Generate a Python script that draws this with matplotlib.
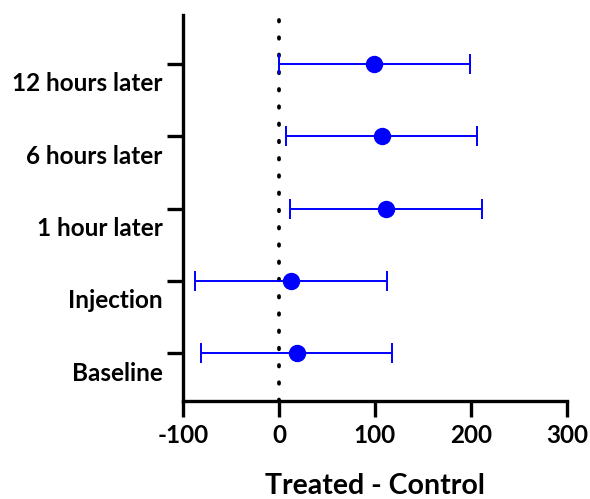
import numpy as np
import matplotlib.pyplot as plt
import matplotlib.transforms as mtransforms

plt.rcParams['font.family'] = ['Lato', 'DejaVu Sans']

# data (bottom to top)
stages = ['Baseline', 'Injection', '1 hour later', '6 hours later', '12 hours later']
means = [19, 13, 112, 107, 99]
lower = [-81, -87, 12, 7, 0]
upper = [118, 113, 211, 206, 199]

means = np.array(means)
err = np.array([means - np.array(lower), np.array(upper) - means])
ypos = np.arange(len(stages))

fig = plt.figure(figsize=(5.9, 4.99), dpi=100)
ax = fig.add_axes([0.310, 0.1964, 0.651, 0.774])

ax.axvline(0, color='black', linestyle=(0, (0.4, 4.2)), linewidth=2.7,
           dash_capstyle='round', zorder=1)
ax.errorbar(means, ypos, xerr=err, fmt='o', color='#0000ff', ecolor='#0000ff',
            markersize=11.5, elinewidth=1.4, capsize=7, capthick=1.4, zorder=3)

ax.set_xlim(-100, 300)
ax.set_ylim(-0.66, 4.68)
ax.set_xticks([-100, 0, 100, 200, 300])
ax.set_xticklabels(['-100', '0', '100', '200', '300'])
ax.set_yticks(ypos)
ax.set_yticklabels(stages)

for side in ['top', 'right']:
    ax.spines[side].set_visible(False)
for side in ['left', 'bottom']:
    ax.spines[side].set_linewidth(2.4)

ax.tick_params(axis='both', length=11.5, width=2.4, labelsize=17.5)
ax.tick_params(axis='y', pad=3)
ax.tick_params(axis='x', pad=5)
for lab in ax.get_yticklabels() + ax.get_xticklabels():
    lab.set_fontweight('bold')

# y labels sit below their ticks
offset = mtransforms.ScaledTranslation(0, -18 / 100, fig.dpi_scale_trans)
for lab in ax.get_yticklabels():
    lab.set_transform(lab.get_transform() + offset)

ax.set_xlabel('Treated - Control', fontsize=20.5, fontweight='bold', labelpad=19)

fig.savefig('out.png', dpi=100)
